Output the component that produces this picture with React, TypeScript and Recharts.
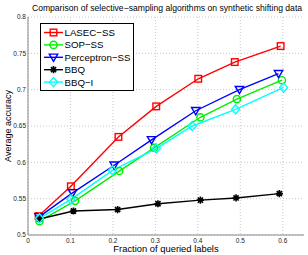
import React from "react";
import { LineChart, Line, XAxis, YAxis, CartesianGrid } from "recharts";

// x = fraction of queried labels, y = average accuracy
const lasecX = [0.025, 0.101, 0.213, 0.302, 0.401, 0.487, 0.595];
const lasecY = [0.526, 0.567, 0.635, 0.677, 0.715, 0.738, 0.76];
const sopX = [0.027, 0.111, 0.215, 0.297, 0.406, 0.492, 0.598];
const sopY = [0.519, 0.547, 0.588, 0.62, 0.662, 0.687, 0.713];
const percX = [0.026, 0.105, 0.203, 0.291, 0.395, 0.498, 0.59];
const percY = [0.525, 0.558, 0.596, 0.631, 0.671, 0.7, 0.722];
const bbqX = [0.027, 0.107, 0.211, 0.306, 0.406, 0.49, 0.592];
const bbqY = [0.522, 0.533, 0.535, 0.543, 0.548, 0.551, 0.557];
const bbqiX = [0.027, 0.101, 0.199, 0.302, 0.387, 0.489, 0.602];
const bbqiY = [0.523, 0.549, 0.589, 0.619, 0.65, 0.673, 0.703];

const xTicks = [0, 0.1, 0.2, 0.3, 0.4, 0.5, 0.6];
const yTicks = [0.5, 0.55, 0.6, 0.65, 0.7, 0.75, 0.8];

const FONT = "'Liberation Sans', Arial, sans-serif";

type Shape = "square" | "circle" | "tri" | "star" | "diamond";

const series: { name: string; color: string; shape: Shape; xs: number[]; ys: number[] }[] = [
  { name: "LASEC\u2212SS", color: "#ff0000", shape: "square", xs: lasecX, ys: lasecY },
  { name: "SOP\u2212SS", color: "#00ee00", shape: "circle", xs: sopX, ys: sopY },
  { name: "Perceptron\u2212SS", color: "#0000ff", shape: "tri", xs: percX, ys: percY },
  { name: "BBQ", color: "#000000", shape: "star", xs: bbqX, ys: bbqY },
  { name: "BBQ\u2212I", color: "#00ffff", shape: "diamond", xs: bbqiX, ys: bbqiY },
];

function marker(shape: Shape, cx: number, cy: number, c: string, key?: React.Key) {
  const common = { fill: "none", stroke: c, strokeWidth: 1.4 };
  if (shape === "square")
    return <rect key={key} x={cx - 3.3} y={cy - 3.3} width={6.6} height={6.6} {...common} />;
  if (shape === "circle") return <circle key={key} cx={cx} cy={cy} r={3.6} {...common} />;
  if (shape === "tri")
    return (
      <polygon
        key={key}
        points={`${cx - 4.2},${cy - 3.2} ${cx + 4.2},${cy - 3.2} ${cx},${cy + 4}`}
        {...common}
      />
    );
  if (shape === "diamond")
    return (
      <polygon
        key={key}
        points={`${cx},${cy - 4.6} ${cx + 4},${cy} ${cx},${cy + 4.6} ${cx - 4},${cy}`}
        {...common}
      />
    );
  const r = 3.6;
  const d = r * 0.72;
  return (
    <path
      key={key}
      d={`M${cx - r},${cy}H${cx + r}M${cx},${cy - r}V${cy + r}M${cx - d},${cy - d}L${cx + d},${cy + d}M${cx - d},${cy + d}L${cx + d},${cy - d}`}
      stroke={c}
      strokeWidth={1.6}
      fill="none"
    />
  );
}

export default function App() {
  return (
    <div style={{ position: "absolute", left: 0, top: 0, width: 308, height: 255, background: "#fff", fontFamily: FONT }}>
      <LineChart width={308} height={255} margin={{ top: 17, right: 4, left: 0, bottom: 0 }}>
        <CartesianGrid
          stroke="#c8c8c8"
          strokeDasharray="1 2"
          verticalValues={xTicks}
          horizontalValues={yTicks}
        />
        <XAxis
          type="number"
          dataKey="x"
          domain={[0, 0.65]}
          ticks={xTicks}
          allowDataOverflow
          height={20}
          tickSize={0}
          tickMargin={3}
          stroke="#888"
          tick={{ fontSize: 6.5, fill: "#222", fontFamily: FONT }}
        />
        <YAxis
          type="number"
          dataKey="y"
          domain={[0.5, 0.8]}
          ticks={yTicks}
          allowDataOverflow
          width={28}
          tickSize={0}
          tickMargin={2}
          stroke="#888"
          tick={{ fontSize: 6.5, fill: "#222", fontFamily: FONT }}
        />
        {series.map((s) => (
          <Line
            key={s.name}
            data={s.xs.map((x, i) => ({ x, y: s.ys[i] }))}
            dataKey="y"
            stroke={s.color}
            strokeWidth={1.4}
            isAnimationActive={false}
            dot={(p: any) => marker(s.shape, p.cx, p.cy, s.color, `${s.name}-${p.index}`)}
            activeDot={false}
          />
        ))}
      </LineChart>

      <div style={{ position: "absolute", left: 0, width: 308, top: 3, textAlign: "center", fontSize: 8.6, lineHeight: "11px", paddingLeft: 26, boxSizing: "border-box", whiteSpace: "nowrap" }}>
        Comparison of selective{"\u2212"}sampling algorithms on synthetic shifting data
      </div>
      <div style={{ position: "absolute", left: 28, width: 276, top: 243, textAlign: "center", fontSize: 9.4, lineHeight: "12px", whiteSpace: "nowrap" }}>
        Fraction of queried labels
      </div>
      <div style={{ position: "absolute", left: 7.5, top: 125.5, transform: "translate(-50%, -50%) rotate(-90deg)", fontSize: 9, lineHeight: "11px", whiteSpace: "nowrap" }}>
        Average accuracy
      </div>

      <div style={{ position: "absolute", left: 40, top: 23, width: 92, height: 66, border: "1px solid #000", background: "#fff" }}>
        <svg width={92} height={66} style={{ display: "block" }}>
          {series.map((s, i) => {
            const y = 8.5 + i * 12.4;
            return (
              <g key={s.name}>
                <line x1={3} x2={22} y1={y} y2={y} stroke={s.color} strokeWidth={1.4} />
                {marker(s.shape, 12.5, y, s.color)}
                <text x={23.5} y={y + 3.5} fontSize={9.7} fontFamily={FONT} fill="#000">
                  {s.name}
                </text>
              </g>
            );
          })}
        </svg>
      </div>
    </div>
  );
}
